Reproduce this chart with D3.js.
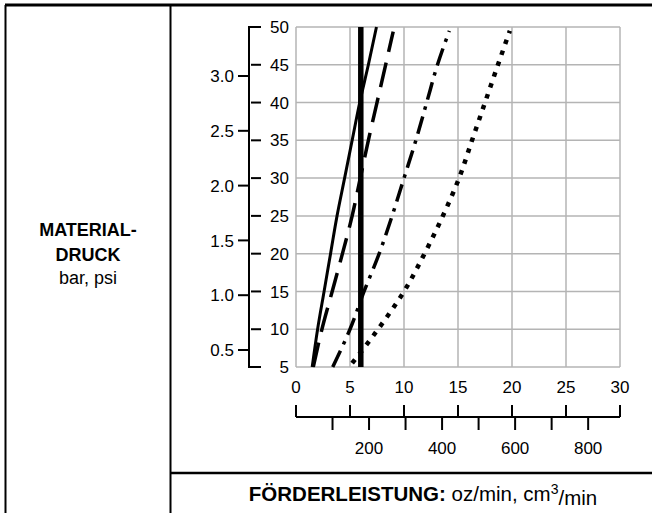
<!DOCTYPE html>
<html><head><meta charset="utf-8">
<script src="https://cdn.jsdelivr.net/npm/d3@7"></script>
<style>body{margin:0;background:#fff}svg{display:block}text{font-family:"Liberation Sans",Arial,sans-serif;fill:#000}</style>
</head><body><svg id="c" width="652" height="513"></svg>
<script>
// ---- data ----
const psiLevels = [5,10,15,20,25,30,35,40,45,50];
const solidFlow    = [1.5,2.0,2.6,3.2,3.8,4.5,5.2,5.9,6.7,7.45];
const longDashPsi  = [5,10,15,20,25,30,35,40,45,49.4];
const longDashFlow = [1.6,2.4,3.35,4.3,5.2,5.95,6.7,7.5,8.3,9.0];
const dashDotPsi   = [5,10,15,20,25,30,35,40,45,49.5];
const dashDotFlow  = [3.4,5.0,6.3,7.7,8.9,10.0,11.1,12.1,13.1,14.2];
const dottedPsi    = [5.5,10,15,20,25,30,35,40,45,49.5];
const dottedFlow   = [5.2,7.6,10.0,11.9,13.6,15.1,16.3,17.5,18.7,19.8];
const thickPsi     = [5,50];
const thickFlow    = [6,6];
const ozTicks  = [0,5,10,15,20,25,30];
const psiTicks = [5,10,15,20,25,30,35,40,45,50];
const barTicks = [0.5,1.0,1.5,2.0,2.5,3.0];
const cm3Ticks = [100,200,300,400,500,600,700,800];
const cm3Labels = [200,400,600,800];
const PSI_PER_BAR = 14.5038, CM3_PER_OZ = 29.5735;

const svg = d3.select("#c");
const x = d3.scaleLinear().domain([0,30]).range([296,620]);
const y = d3.scaleLinear().domain([5,50]).range([367,27]);
const xc = d3.scaleLinear().domain([0,30*CM3_PER_OZ]).range([296,620]);

// frame
svg.append("line").attr("x1",5).attr("x2",652).attr("y1",5).attr("y2",5).attr("stroke","#000").attr("stroke-width",3);
svg.append("line").attr("x1",5.5).attr("x2",5.5).attr("y1",5).attr("y2",513).attr("stroke","#000").attr("stroke-width",2);
svg.append("line").attr("x1",170.5).attr("x2",170.5).attr("y1",5).attr("y2",513).attr("stroke","#000").attr("stroke-width",2);
svg.append("line").attr("x1",170).attr("x2",652).attr("y1",473).attr("y2",473).attr("stroke","#000").attr("stroke-width",2.5);

// grid
const g = svg.append("g").attr("stroke","#b4b4b4").attr("stroke-width",1.5);
g.selectAll(".v").data(ozTicks).join("line").attr("x1",d=>x(d)).attr("x2",d=>x(d)).attr("y1",y(50)).attr("y2",y(5));
g.selectAll(".h").data(psiTicks).join("line").attr("x1",x(0)).attr("x2",x(30)).attr("y1",d=>y(d)).attr("y2",d=>y(d));

// psi axis (right ticks) + bar ticks (left)
const axX = 249, FS = 17;
svg.append("path").attr("d",`M${axX+12},${y(50)}H${axX}V${y(5)}H${axX+12}`).attr("fill","none").attr("stroke","#000").attr("stroke-width",2);
svg.selectAll(".pt").data(psiTicks.filter(d=>d>5&&d<50)).join("line").attr("x1",axX+2).attr("x2",axX+12).attr("y1",d=>y(d)).attr("y2",d=>y(d)).attr("stroke","#000").attr("stroke-width",2);
svg.selectAll(".pl").data(psiTicks).join("text").attr("x",289).attr("y",d=>y(d)).attr("dy","0.36em").attr("text-anchor","end").attr("font-size",FS).text(d=>d);
svg.selectAll(".bt").data(barTicks).join("line").attr("x1",axX-11).attr("x2",axX).attr("y1",d=>y(d*PSI_PER_BAR)).attr("y2",d=>y(d*PSI_PER_BAR)).attr("stroke","#000").attr("stroke-width",2);
svg.selectAll(".bl").data(barTicks).join("text").attr("x",234).attr("y",d=>y(d*PSI_PER_BAR)).attr("dy","0.36em").attr("text-anchor","end").attr("font-size",FS).text(d=>d.toFixed(1));

// oz labels
svg.selectAll(".ol").data(ozTicks).join("text").attr("x",d=>x(d)).attr("y",387).attr("dy","0.36em").attr("text-anchor","middle").attr("font-size",FS).text(d=>d);

// cm3 axis
const cy = 417;
svg.append("line").attr("x1",x(0)).attr("x2",x(30)).attr("y1",cy).attr("y2",cy).attr("stroke","#000").attr("stroke-width",2);
svg.selectAll(".ut").data(ozTicks).join("line").attr("x1",d=>x(d)).attr("x2",d=>x(d)).attr("y1",cy-12).attr("y2",cy).attr("stroke","#000").attr("stroke-width",2);
svg.selectAll(".dt").data(cm3Ticks).join("line").attr("x1",d=>xc(d)).attr("x2",d=>xc(d)).attr("y1",cy).attr("y2",cy+13).attr("stroke","#000").attr("stroke-width",2);
svg.selectAll(".cl").data(cm3Labels).join("text").attr("x",d=>xc(d)).attr("y",448).attr("dy","0.36em").attr("text-anchor","middle").attr("font-size",FS).text(d=>d);

// curves
const series = [
  {f:solidFlow, p:psiLevels, w:3, dash:null},
  {f:longDashFlow, p:longDashPsi, w:3.5, dash:"25,11"},
  {f:dashDotFlow, p:dashDotPsi, w:3.5, dash:"18,7,3.5,7"},
  {f:dottedFlow, p:dottedPsi, w:4.5, dash:"4.5,7"},
  {f:thickFlow, p:thickPsi, w:5.5, dash:null}
];
const line = d3.line().x(d=>x(d[0])).y(d=>y(d[1])).curve(d3.curveMonotoneY);
svg.selectAll(".s").data(series).join("path")
  .attr("d",s=>line(s.f.map((v,i)=>[v,s.p[i]])))
  .attr("fill","none").attr("stroke","#000").attr("stroke-width",s=>s.w)
  .attr("stroke-dasharray",s=>s.dash);

// texts
svg.append("text").attr("x",88).attr("y",230).attr("dy","0.36em").attr("text-anchor","middle").attr("font-size",18).attr("font-weight","bold").text("MATERIAL-");
svg.append("text").attr("x",88).attr("y",255).attr("dy","0.36em").attr("text-anchor","middle").attr("font-size",18).attr("font-weight","bold").text("DRUCK");
svg.append("text").attr("x",88).attr("y",278).attr("dy","0.36em").attr("text-anchor","middle").attr("font-size",18).text("bar, psi");

const t = svg.append("text").attr("x",423).attr("y",494).attr("dy","0.36em").attr("text-anchor","middle").attr("font-size",20.5);
t.append("tspan").attr("font-weight","bold").text("FÖRDERLEISTUNG:");
t.append("tspan").text(" oz/min, cm");
t.append("tspan").attr("font-size",14).attr("dy","-0.55em").text("3");
t.append("tspan").attr("dy","0.55em").text("/min");
</script></body></html>
